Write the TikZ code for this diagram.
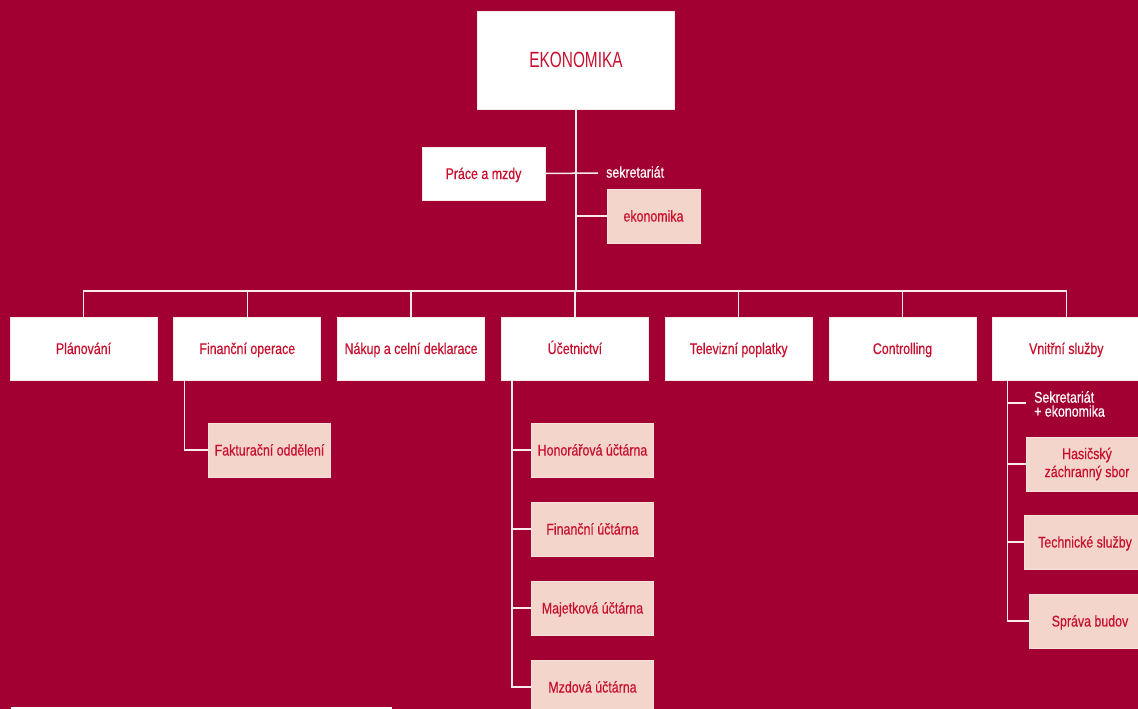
\documentclass[tikz,border=0pt]{standalone}
\usepackage{fontspec}
\setmainfont{Liberation Sans}[FakeStretch=0.8,FakeBold=0.5]
\newfontfamily\headfont{Liberation Sans}[FakeStretch=0.7]
\usetikzlibrary{positioning}
\definecolor{orgred}{HTML}{A20032}
\definecolor{orgtext}{HTML}{C8102E}
\definecolor{orgpale}{HTML}{F4D5CB}
\tikzset{
  basebox/.style={draw=orgpale!50!white,line width=.8pt,fill=white,text=orgtext,minimum width=147pt,minimum height=63pt,inner sep=0pt,align=center,font=\fontsize{15.5}{17}\selectfont},
  evenline/.style={text height=11pt,text depth=0pt},
  unitbox/.style={basebox,evenline},
  topbox/.style={basebox,evenline,text height=16pt,minimum width=197pt,minimum height=98pt,font=\headfont\fontsize{22}{26}\selectfont},
  paleblock/.style={basebox,fill=orgpale,draw=orgpale!70!white,minimum width=122pt,minimum height=54pt},
  subbox/.style={paleblock,evenline},
  notetext/.style={text=white,inner sep=0pt,anchor=west,align=left,font=\fontsize{15.5}{14}\selectfont},
  orgline/.style={draw=white!92!orgred,line width=1.5pt}
}
\begin{document}
\begin{tikzpicture}[x=1pt,y=-1pt,node distance=16pt]
  \fill[orgred] (0,0) rectangle (1138,709);
  \useasboundingbox (0,0) rectangle (1138,709);
  % top
  \node[topbox] (eko) at (576,60) {EKONOMIKA};
  \node[unitbox,minimum width=123pt,minimum height=53pt] (prace) at (483.5,173.5) {Práce a mzdy};
  \coordinate (sek) at (598,173);
  \node[notetext] (sektxt) at (606,172) {sekretariát};
  \node[subbox,minimum width=93pt] (ekon) at (653.5,216) {ekonomika};
  \coordinate (bus) at (576,291);
  % departments
  \node[unitbox] (plan) at (83.5,348.5) {Plánování};
  \node[unitbox,right=of plan] (finop) {Finanční operace};
  \node[unitbox,right=of finop] (nakup) {Nákup a celní deklarace};
  \node[unitbox,right=of nakup] (ucet) {Účetnictví};
  \node[unitbox,right=of ucet] (tv) {Televizní poplatky};
  \node[unitbox,right=of tv] (contr) {Controlling};
  \node[unitbox,right=of contr] (vnitr) {Vnitřní služby};
  % sub units
  \node[subbox] (fakt) at (269.5,450) {Fakturační oddělení};
  \node[subbox] (hon) at (592.5,450) {Honorářová účtárna};
  \node[subbox] (finu) at (592.5,529) {Finanční účtárna};
  \node[subbox] (maj) at (592.5,608) {Majetková účtárna};
  \node[subbox] (mzd) at (592.5,687) {Mzdová účtárna};
  \coordinate (sek2) at (1026,403);
  \node[notetext] (sek2txt) at (1034,404) {Sekretariát\\+ ekonomika};
  \node[paleblock] (hasic) at (1087,464) {Hasičský\\[1pt]záchranný sbor};
  \node[subbox] (tech) at (1085,542) {Technické služby};
  \node[subbox] (sprava) at (1090,621) {Správa budov};
  % lines
  \draw[orgline] (eko.south) -- (bus);
  \draw[orgline] (prace.east) -- (sek);
  \draw[orgline] (ekon.west) -- (ekon.west -| eko.south);
  \draw[orgline] (plan.north) |- (bus) -| (vnitr.north);
  \foreach \n in {finop,nakup,ucet,tv,contr}
    \draw[orgline] (\n.north) -- (\n.north |- bus);
  \draw[orgline] ([xshift=11pt]finop.south west) |- (fakt.west);
  \coordinate (ucetbr) at ([xshift=11pt]ucet.south west);
  \draw[orgline] (ucetbr) |- (mzd.west);
  \foreach \n in {hon,finu,maj}
    \draw[orgline] (\n.west) -- (\n.west -| ucetbr);
  \coordinate (vnitrbr) at ([xshift=15pt]vnitr.south west);
  \draw[orgline] (vnitrbr) |- (sprava.west);
  \foreach \n in {sek2,hasic,tech}
    \draw[orgline] (\n.west) -- (\n.west -| vnitrbr);
  \draw[white,line width=2pt] (11,707.5) -- (392,707.5);
\end{tikzpicture}
\end{document}
